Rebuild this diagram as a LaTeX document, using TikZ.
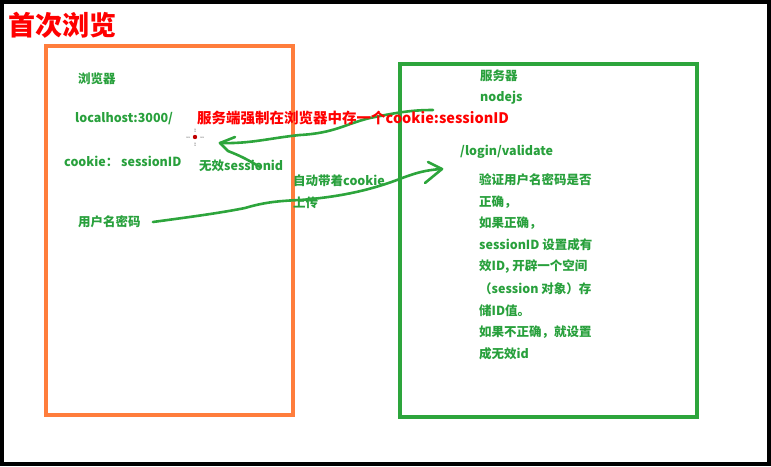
\documentclass[tikz,border=0pt]{standalone}
\usepackage{fontspec}
\setmainfont{Noto Sans CJK SC}
\usetikzlibrary{positioning}

\definecolor{boxorange}{RGB}{255,125,60}
\definecolor{boxgreen}{RGB}{45,165,60}
\definecolor{txtgreen}{RGB}{40,160,60}

\begin{document}
\begin{tikzpicture}[x=1pt,y=-1pt,
  txt/.style={anchor=west,inner sep=0pt,text=txtgreen,font=\fontsize{12.5}{15}\selectfont\bfseries},
  redtxt/.style={anchor=west,inner sep=0pt,text=red,font=\fontsize{14.5}{17}\selectfont\bfseries},
  box/.style={draw,line width=4pt},
  pen/.style={draw=boxgreen,line width=2.6pt,line cap=round,line join=round}]

  \useasboundingbox (0,0) rectangle (771,466);
  \draw[line width=4pt] (2,2) rectangle (769,464);

  % title
  \node[anchor=west,inner sep=0pt,text=red,font=\fontsize{27}{30}\selectfont\bfseries] (title) at (8,25) {首次浏览};

  % the two boxes
  \draw[box,boxorange] (45.5,45.5) rectangle (292.5,415);
  \draw[box,boxgreen] (400,64) rectangle (696.5,417);

  % browser side
  \node[txt] (browser) at (78,79) {浏览器};
  \node[txt] (host) at (75,119) {localhost:3000/};
  \node[txt] (cookie) at (64,161) {cookie： sessionID};
  \node[txt] (user) at (78,222) {用户名密码};
  \node[txt] (invalid) at (199,166) {无效sessionid};
  \node[txt] (auto) at (293,181) {自动带着cookie};
  \node[txt] (upload) at (293,203) {上传};

  % server side
  \node[txt] (server) at (480,76) {服务器};
  \node[txt] (node) at (480,98) {nodejs};
  \node[txt] (validate) at (460,152) {/login/validate};
  \foreach \line [count=\i] in {验证用户名密码是否, 正确，, 如果正确，,
      sessionID 设置成有, {效ID, 开辟一个空间}, （session 对象）存,
      储ID值。, 如果不正确，就设置, 成无效id}
    \node[txt] (p\i) at (479,{180+21.7*(\i-1)}) {\line};

  % cursor mark
  \fill[red!75!black] (195,137) circle (2.2pt);
  \foreach \d in {6,8} {
    \fill (195-\d,137) circle (0.5pt);
    \fill (195+\d,137) circle (0.5pt);
    \fill (195,137-\d) circle (0.5pt);
    \fill (195,137+\d) circle (0.5pt);
  }

  % hand drawn arrows
  \coordinate (from1) at (433,110);
  \coordinate (tip1) at (220,143);
  \coordinate (from2) at ([xshift=12pt]user.east);
  \coordinate (tip2) at (442,169);

  \draw[pen] (from1) .. controls (410,110) and (395,113) .. (370,118)
    .. controls (345,124) and (335,133) .. (300,135)
    .. controls (270,138) and (250,144) .. (tip1);
  \draw[pen] (tip1) ++(15,-6) -- (tip1) -- ++(8,8) .. controls (238,155) and (245,158) .. ++(32,16);

  \draw[pen] (from2) .. controls (190,217) and (220,213) .. (245,208)
    .. controls (262,203) and (275,201) .. (300,200)
    .. controls (340,197) and (370,190) .. (397,180)
    .. controls (415,173) and (425,170) .. (tip2);
  \draw[pen] (tip2) ++(-14,-7) -- (tip2) -- ++(-17,14);

  % server message
  \node[redtxt] (msg) at (197,118) {服务端强制在浏览器中存一个cookie:sessionID};
\end{tikzpicture}
\end{document}
